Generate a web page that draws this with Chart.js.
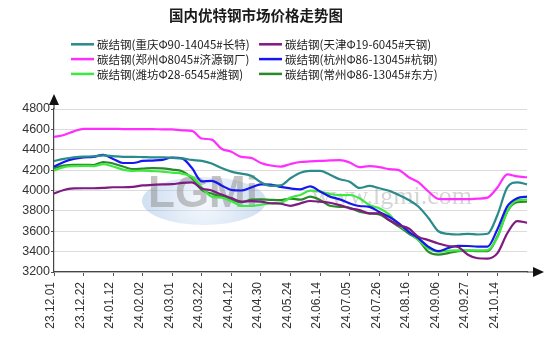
<!DOCTYPE html>
<html>
<head>
<meta charset="utf-8">
<script src="https://cdn.jsdelivr.net/npm/chart.js@4.4.1/dist/chart.umd.min.js"></script>
<style>
  html, body { margin: 0; padding: 0; background: #fff; }
  #wrap { width: 554px; height: 345px; }
</style>
</head>
<body>
<div id="wrap"><canvas id="priceChart" width="554" height="345"></canvas></div>
<script>
const chartTitle = "国内优特钢市场价格走势图";
const tickDates = ["23.12.01","23.12.22","24.01.12","24.02.02","24.03.01","24.03.22","24.04.12","24.04.30",
  "24.05.24","24.06.14","24.07.05","24.07.26","24.08.16","24.09.06","24.09.27","24.10.14"];
const yTicks = [3200, 3400, 3600, 3800, 4000, 4200, 4400, 4600, 4800];

const seriesNames = [
  "碳结钢(重庆Φ90-14045#长特)",
  "碳结钢(天津Φ19-6045#天钢)",
  "碳结钢(郑州Φ8045#济源钢厂)",
  "碳结钢(杭州Φ86-13045#杭钢)",
  "碳结钢(潍坊Φ28-6545#潍钢)",
  "碳结钢(常州Φ86-13045#东方)"
];
const seriesColors = ["#2a8b8b", "#7e1a80", "#ff2eff", "#1616f0", "#3ee83e", "#2a8a2a"];

const chongqing = [4290,4310,4325,4333,4335,4345,4338,4330,4330,4328,4325,4325,4320,4315,4300,4290,4265,4220,4185,4165,
  4145,4080,4045,4050,4120,4175,4192,4192,4155,4110,4087,4025,4045,4022,3998,3956,3907,3841,3730,3600,
  3575,3568,3575,3568,3575,3760,4030,4080,4060];
const tianjin = [3970,4005,4020,4022,4022,4025,4032,4032,4035,4050,4055,4060,4062,4075,4080,4020,4000,3960,3925,3890,
  3895,3890,3875,3870,3850,3874,3897,3890,3880,3857,3825,3808,3776,3776,3710,3660,3627,3545,3513,3480,
  3455,3445,3370,3335,3332,3385,3580,3700,3685];
const zhengzhou = [4525,4545,4580,4605,4605,4605,4605,4603,4603,4602,4602,4600,4600,4590,4585,4510,4500,4410,4380,4330,
  4320,4270,4245,4235,4260,4280,4285,4290,4295,4298,4275,4230,4240,4230,4210,4200,4130,4080,3990,3918,
  3915,3915,3915,3920,3930,4030,4158,4138,4130];
const hangzhou = [4235,4280,4310,4325,4330,4350,4310,4270,4270,4290,4294,4300,4324,4315,4220,4090,4095,4050,4005,4000,
  4030,4060,4058,4035,4020,4012,4040,3990,3940,3913,3874,3848,3840,3790,3742,3677,3595,3529,3447,3405,
  3435,3457,3455,3450,3450,3620,3845,3925,3940];
const weifang = [4195,4230,4240,4242,4240,4258,4235,4205,4193,4195,4190,4186,4175,4165,4135,4030,3940,3930,3895,3850,
  3848,3860,3874,3880,3930,3956,3998,3990,3966,3955,3956,3923,3857,3825,3765,3660,3595,3512,3430,3400,
  3410,3412,3412,3412,3415,3540,3795,3905,3910];
const changzhou = [4220,4245,4252,4252,4250,4280,4265,4235,4210,4215,4220,4218,4205,4190,4120,4005,3970,3940,3910,3885,
  3910,3913,3908,3905,3920,3910,3940,3907,3850,3840,3831,3792,3776,3765,3710,3645,3578,3512,3397,3370,
  3385,3405,3410,3405,3405,3550,3795,3885,3890];

const allSeries = [chongqing, tianjin, zhengzhou, hangzhou, weifang, changzhou];
// one point every week-ish, a date label on every third point
const labels = chongqing.map((_, i) => (i % 3 === 0 && tickDates[i / 3]) ? tickDates[i / 3] : "");

const textFont = '"Liberation Sans", Arial, sans-serif';
const cjkFont = '"Noto Sans CJK SC", sans-serif';

// title, legend, watermark and axis arrows
const decorPlugin = {
  id: 'decor',
  beforeDatasetsDraw(chart) {
    const ctx = chart.ctx;
    ctx.save();
    const g = ctx.createRadialGradient(204, 201, 5, 204, 201, 64);
    g.addColorStop(0, 'rgba(230,238,250,0.45)');
    g.addColorStop(1, 'rgba(130,170,220,0.38)');
    ctx.fillStyle = g;
    ctx.beginPath();
    ctx.ellipse(204, 201, 62, 24, 0, 0, Math.PI * 2);
    ctx.fill();
    ctx.fillStyle = 'rgba(140,140,140,0.5)';
    ctx.font = 'bold 44px ' + textFont;
    ctx.textAlign = 'center';
    ctx.textBaseline = 'middle';
    ctx.fillText('LGMi', 203, 195);
    ctx.fillStyle = 'rgba(150,150,150,0.4)';
    ctx.font = '26px "Liberation Serif", serif';
    ctx.fillText('www.lgmi.com', 392, 197);
    ctx.restore();
  },
  afterDraw(chart) {
    const ctx = chart.ctx;
    const a = chart.chartArea;
    ctx.save();
    ctx.fillStyle = '#1a1a1a';
    ctx.font = 'bold 14.5px ' + cjkFont;
    ctx.textAlign = 'center';
    ctx.textBaseline = 'middle';
    ctx.fillText(chartTitle, 256, 15);

    ctx.font = '11.5px ' + cjkFont;
    ctx.textAlign = 'left';
    chart.data.datasets.forEach((ds, i) => {
      const x = i % 2 ? 259 : 71;
      const y = 44.3 + Math.floor(i / 2) * 14.8;
      ctx.strokeStyle = ds.borderColor;
      ctx.lineWidth = 2.5;
      ctx.beginPath();
      ctx.moveTo(x, y);
      ctx.lineTo(x + 23, y);
      ctx.stroke();
      ctx.fillStyle = '#222';
      ctx.fillText(ds.label, x + 26, y + 0.5);
    });

    // axis extensions with arrow heads
    ctx.strokeStyle = '#444';
    ctx.fillStyle = '#111';
    ctx.lineWidth = 1.2;
    ctx.beginPath();
    ctx.moveTo(a.left, a.top);
    ctx.lineTo(a.left, 104);
    ctx.moveTo(a.right, a.bottom);
    ctx.lineTo(533, a.bottom);
    ctx.stroke();
    ctx.beginPath();
    ctx.moveTo(a.left, 94);
    ctx.lineTo(a.left - 5, 105);
    ctx.lineTo(a.left + 5, 105);
    ctx.closePath();
    ctx.fill();
    ctx.beginPath();
    ctx.moveTo(544, a.bottom);
    ctx.lineTo(533, a.bottom - 5);
    ctx.lineTo(533, a.bottom + 5);
    ctx.closePath();
    ctx.fill();
    ctx.restore();
  }
};

const bgPlugin = {
  id: 'bg',
  beforeDraw(chart) {
    const ctx = chart.ctx;
    ctx.save();
    ctx.fillStyle = '#fff';
    ctx.fillRect(0, 0, chart.width, chart.height);
    ctx.restore();
  }
};

new Chart(document.getElementById('priceChart'), {
  type: 'line',
  data: {
    labels: labels,
    datasets: allSeries.map((vals, i) => ({
      label: seriesNames[i],
      data: vals,
      borderColor: seriesColors[i],
      backgroundColor: seriesColors[i],
      borderWidth: 2.2,
      pointRadius: 0,
      cubicInterpolationMode: 'monotone',
      fill: false
    }))
  },
  options: {
    responsive: false,
    animation: false,
    devicePixelRatio: 1,
    layout: { padding: { top: 109, right: 27, left: 0, bottom: 0 } },
    plugins: {
      legend: { display: false },
      title: { display: false },
      tooltip: { enabled: false }
    },
    scales: {
      x: {
        type: 'category',
        offset: false,
        afterFit(scale) { scale.height = 73; },
        grid: {
          drawOnChartArea: false,
          drawTicks: true,
          tickLength: 4,
          tickColor: (c) => (c.index % 3 === 0 && c.index < 46) ? '#555' : 'rgba(0,0,0,0)'
        },
        border: { display: true, color: '#444', width: 1.2 },
        ticks: {
          autoSkip: false,
          maxRotation: 90,
          minRotation: 90,
          padding: 6,
          labelOffset: -3,
          color: '#333',
          font: { family: textFont, size: 12 }
        }
      },
      y: {
        min: 3200,
        max: 4800,
        afterFit(scale) { scale.width = 54; },
        afterBuildTicks(scale) { scale.ticks = yTicks.map(v => ({ value: v })); },
        grid: {
          color: '#dcdcdc',
          lineWidth: 1,
          drawTicks: true,
          tickLength: 3,
          tickColor: '#555'
        },
        border: { display: true, color: '#444', width: 1.2 },
        ticks: {
          padding: 1,
          color: '#333',
          font: { family: textFont, size: 12.5 },
          callback: (v) => String(v)
        }
      }
    }
  },
  plugins: [bgPlugin, decorPlugin]
});
</script>
</body>
</html>
